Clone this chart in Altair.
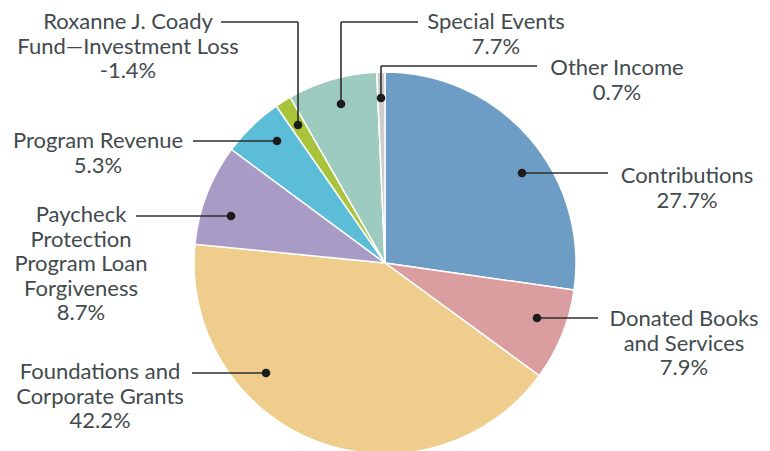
import altair as alt
import pandas as pd

# ---- data ----
categories = [
    "Contributions",
    "Donated Books and Services",
    "Foundations and Corporate Grants",
    "Paycheck Protection Program Loan Forgiveness",
    "Program Revenue",
    "Roxanne J. Coady Fund—Investment Loss",
    "Special Events",
    "Other Income",
]
shares = [27.7, 7.9, 42.2, 8.7, 5.3, 1.4, 7.7, 0.7]
pct_text = ["27.7%", "7.9%", "42.2%", "8.7%", "5.3%", "-1.4%", "7.7%", "0.7%"]
label_text = [
    "Contributions",
    "Donated Books\nand Services",
    "Foundations and\nCorporate Grants",
    "Paycheck\nProtection\nProgram Loan\nForgiveness",
    "Program Revenue",
    "Roxanne J. Coady\nFund—Investment Loss",
    "Special Events",
    "Other Income",
]
colors = ["#6d9dc4", "#da9ea0", "#efcd8d", "#a89bc5", "#5bbdd7", "#a9c43a", "#9ecbbf", "#cdcdcd"]

# ---- layout (page pixels) ----
W, H, OFF = 754, 451, 8
CX, CY, R = 385, 263, 191
label_anchor = [(687, 166), (684, 309), (100, 362), (81, 205), (98, 131), (128, 12), (496, 12), (617, 58)]
dot_pos = [(522, 173), (537, 318), (266, 373), (231, 216), (277, 141), (298, 125), (341, 104), (381, 98)]
leader = [
    (522, 173, 608, 173),
    (537, 318, 598, 318),
    (192, 373, 266, 373),
    (136, 216, 231, 216),
    (193, 141, 277, 141),
    (221, 22, 298, 22), (298, 22, 298, 125),
    (341, 22, 418, 22), (341, 22, 341, 104),
    (381, 66, 537, 66), (381, 66, 381, 98),
]

pie_df = pd.DataFrame({"cat": categories, "share": shares, "idx": list(range(len(categories)))})
lab_df = pd.DataFrame({
    "label": [f"{t}\n{p}" for t, p in zip(label_text, pct_text)],
    "x": [a[0] - OFF for a in label_anchor],
    "y": [a[1] - OFF for a in label_anchor],
})
dot_df = pd.DataFrame({"x": [d[0] - OFF for d in dot_pos], "y": [d[1] - OFF for d in dot_pos]})
seg_df = pd.DataFrame({
    "x": [s[0] - OFF for s in leader], "y": [s[1] - OFF for s in leader],
    "x2": [s[2] - OFF for s in leader], "y2": [s[3] - OFF for s in leader],
})

xs = alt.Scale(domain=[0, W], range=[0, W], nice=False, zero=False)
ys = alt.Scale(domain=[0, H], range=[0, H], nice=False, zero=False)

pie = alt.Chart(pie_df).mark_arc(radius=R, stroke="white", strokeWidth=1.5).encode(
    theta=alt.Theta("share:Q", stack=True),
    color=alt.Color("cat:N", scale=alt.Scale(domain=categories, range=colors), legend=None),
    order=alt.Order("idx:Q"),
    x=alt.value(CX - OFF),
    y=alt.value(CY - OFF),
)

rules = alt.Chart(seg_df).mark_rule(color="#2e2e2e", strokeWidth=1.6).encode(
    x=alt.X("x:Q", scale=xs, axis=None),
    y=alt.Y("y:Q", scale=ys, axis=None),
    x2="x2:Q",
    y2="y2:Q",
)

dots = alt.Chart(dot_df).mark_circle(size=75, color="#1c1c1c", opacity=1).encode(
    x=alt.X("x:Q", scale=xs, axis=None),
    y=alt.Y("y:Q", scale=ys, axis=None),
)

texts = alt.Chart(lab_df).mark_text(
    align="center", baseline="top", lineBreak="\n", lineHeight=24.5,
    fontSize=22, font="Lato", fontWeight=400, color="#424a4d",
).encode(
    x=alt.X("x:Q", scale=xs, axis=None),
    y=alt.Y("y:Q", scale=ys, axis=None),
    text="label:N",
)

chart = alt.layer(pie, rules, dots, texts).properties(
    width=W, height=H, padding=0, autosize=alt.AutoSizeParams(type="none"), background="white"
).configure_view(stroke=None)

chart.save("out.html", embed_options={"renderer": "svg", "actions": False})
